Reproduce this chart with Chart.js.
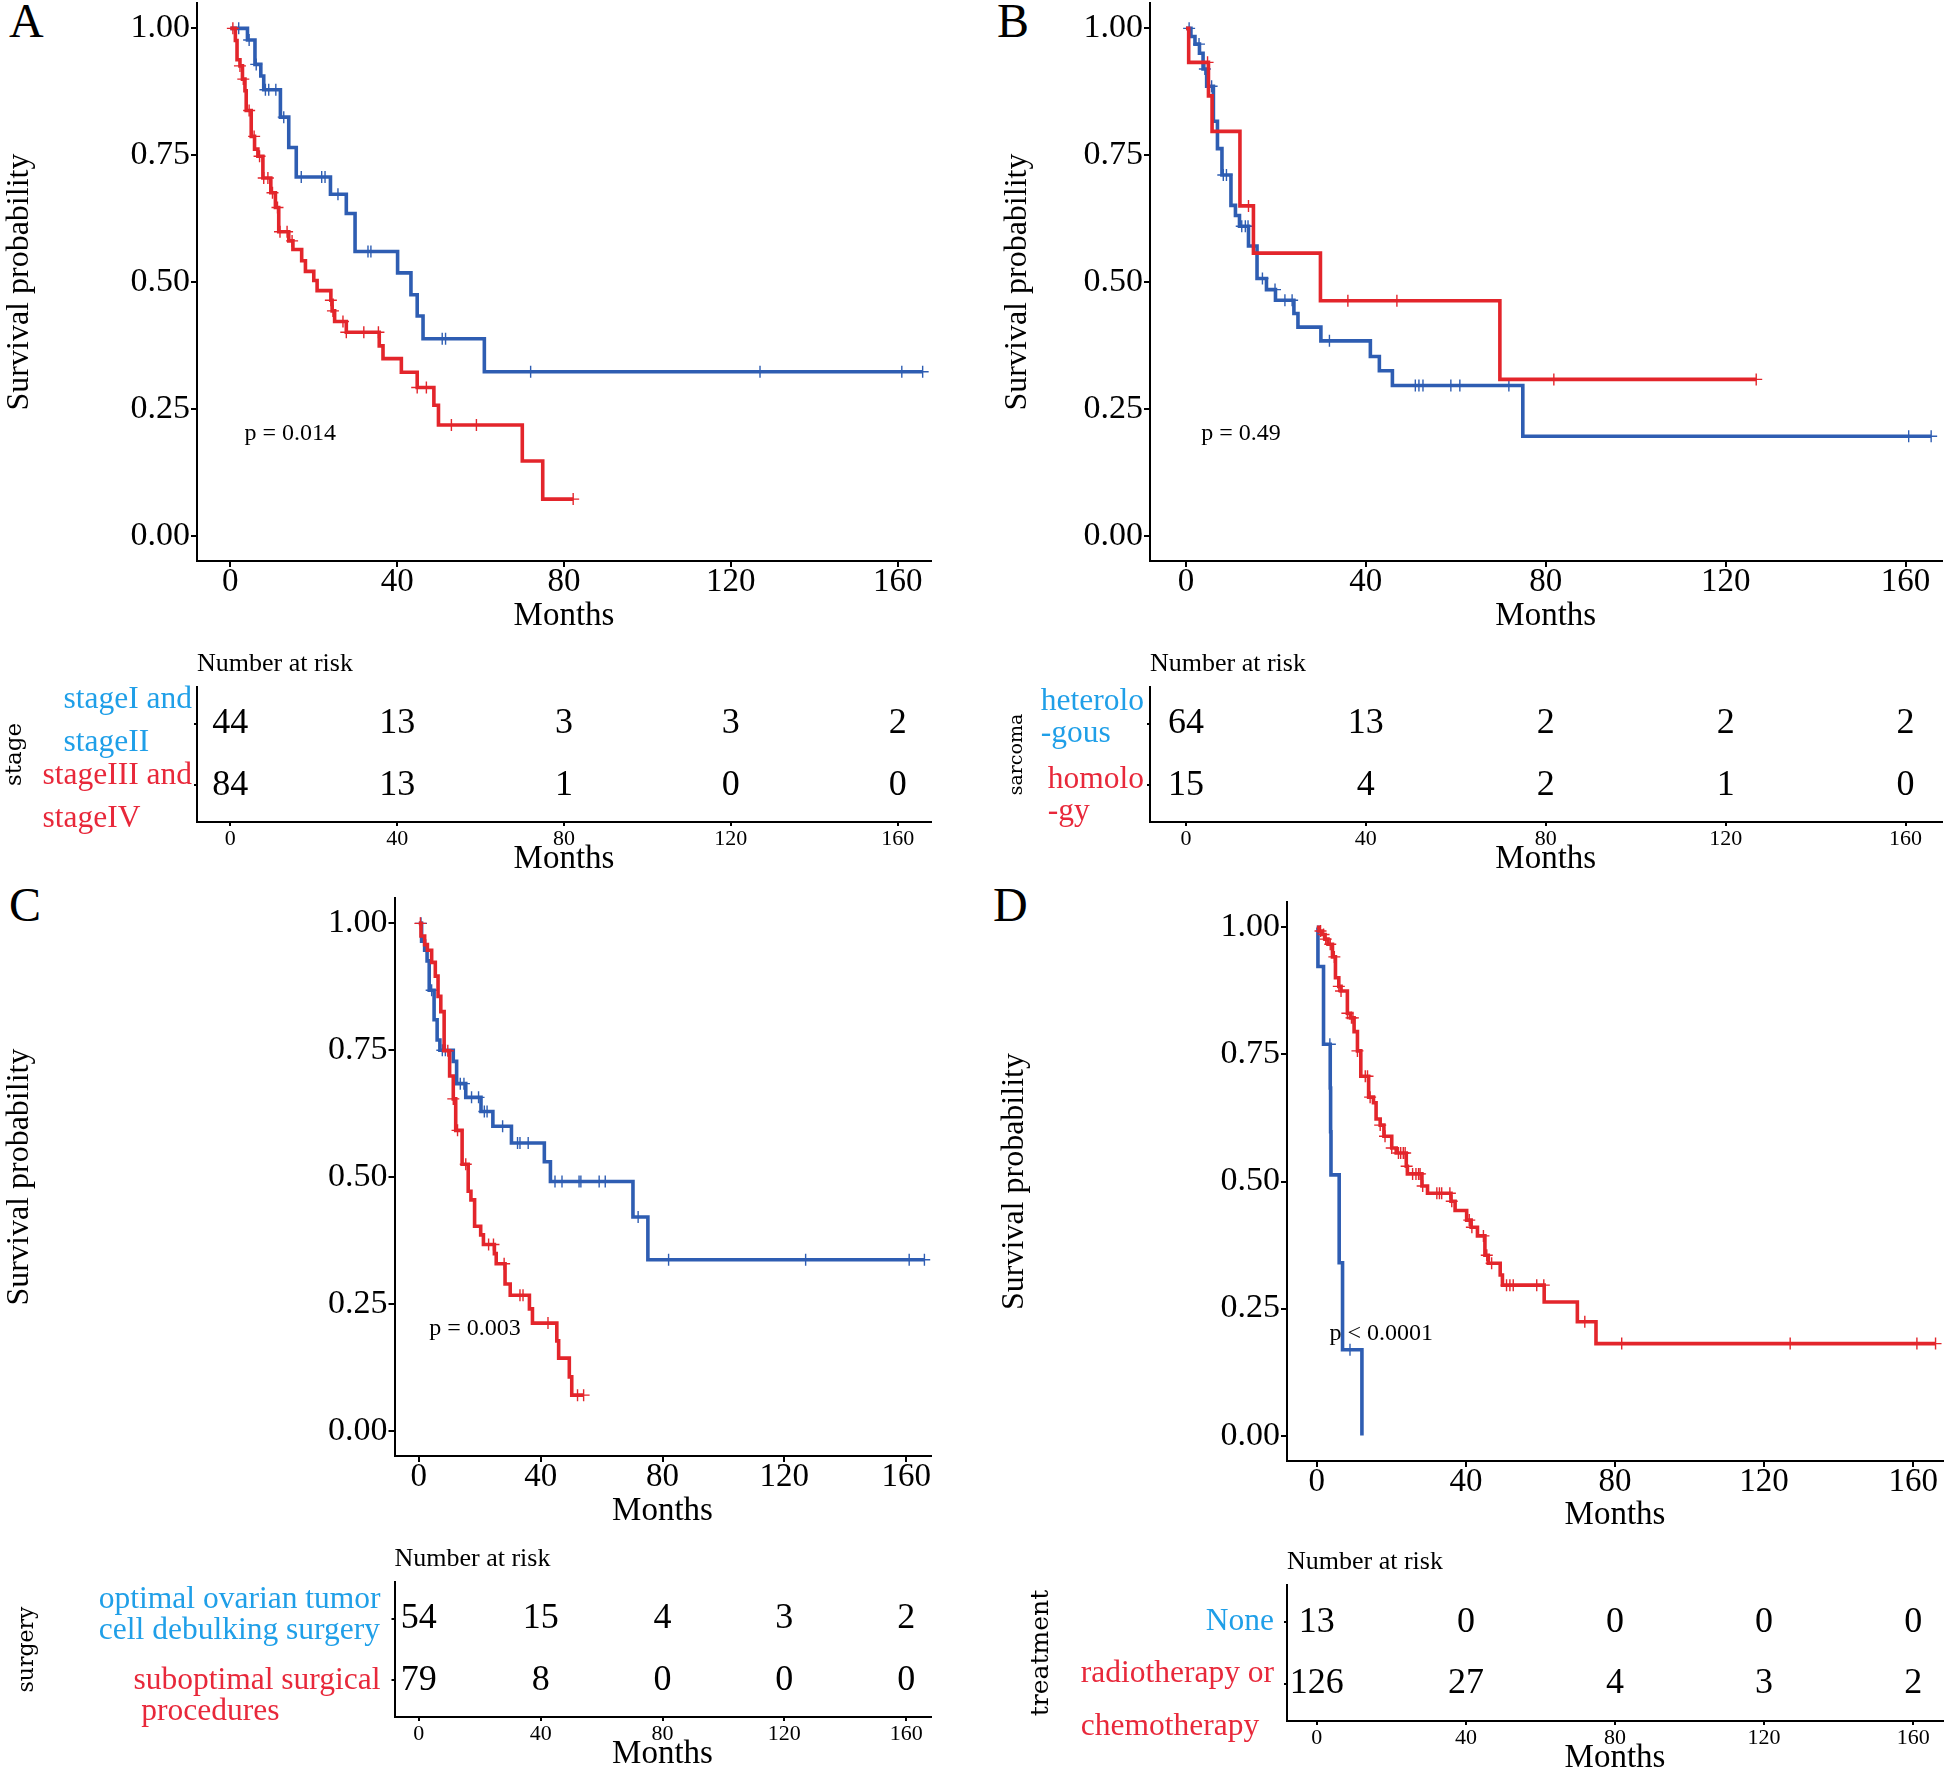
<!DOCTYPE html>
<html>
<head>
<meta charset="utf-8">
<script src="https://cdn.jsdelivr.net/npm/chart.js@4.4.1/dist/chart.umd.min.js"></script>
<style>
html, body { margin: 0; padding: 0; background: #fff; }
#page { position: relative; width: 1944px; height: 1771px; overflow: hidden; background: #fff;
        font-family: "Liberation Serif", "Times New Roman", serif; }
#page canvas { position: absolute; }
.tag { position: absolute; font-size: 48px; line-height: 48px; color: #000; }
</style>
</head>
<body>
<div id="page">
  <div class="tag" style="left:9px;top:-3px">A</div>
  <div class="tag" style="left:997px;top:-3px">B</div>
  <div class="tag" style="left:9px;top:881px">C</div>
  <div class="tag" style="left:993px;top:881px">D</div>
  <canvas id="kmA"></canvas><canvas id="riskA"></canvas>
  <canvas id="kmB"></canvas><canvas id="riskB"></canvas>
  <canvas id="kmC"></canvas><canvas id="riskC"></canvas>
  <canvas id="kmD"></canvas><canvas id="riskD"></canvas>
</div>
<script>
// Axis ticks
const xTicks = [0, 40, 80, 120, 160];
const yTicks = [0, 0.25, 0.5, 0.75, 1];

// A: stage  (event times in months, survival after each event, censor times)
const aBlueT = [4.1, 5.9, 7.3, 8.0, 12.0, 14.0, 15.8, 24.0, 27.8, 29.9, 40.1, 43.3, 44.8, 46.2, 60.9, 166];
const aBlueS = [0.977, 0.929, 0.906, 0.879, 0.825, 0.765, 0.707, 0.673, 0.635, 0.560, 0.518, 0.475, 0.433, 0.388, 0.323, 0.323];
const aBlueC = [2, 4.5, 6.2, 8.4, 9.2, 10.9, 12.8, 17, 21.9, 22.7, 25.8, 33, 33.7, 50.8, 51.6, 72, 127, 161, 166];
const aRedT = [1.2, 1.6, 2.3, 2.9, 3.5, 3.8, 5.0, 5.8, 6.6, 7.8, 9.7, 10.8, 11.6, 14.0, 15.0, 17.1, 18.0, 20.0, 20.8, 24.1, 24.4, 25.0, 27.8, 35.7, 36.6, 41.0, 44.8, 48.8, 49.9, 70.0, 74.9, 82.2];
const aRedS = [0.976, 0.938, 0.926, 0.900, 0.877, 0.838, 0.787, 0.762, 0.748, 0.705, 0.676, 0.647, 0.599, 0.581, 0.564, 0.542, 0.521, 0.503, 0.483, 0.464, 0.443, 0.422, 0.401, 0.374, 0.349, 0.322, 0.292, 0.257, 0.218, 0.147, 0.072, 0.072];
const aRedC = [0.6, 2.3, 3.1, 4.5, 5.7, 7.0, 8.0, 9.0, 10.1, 11.3, 11.9, 13.6, 14.8, 24.1, 24.6, 27.0, 27.8, 32.0, 35.5, 44.8, 47.0, 53.0, 59.0, 82.2];
const aLabels = [["stageI and", "stageII"], ["stageIII and", "stageIV"]];
const aRiskBlue = [44, 13, 3, 3, 2];
const aRiskRed = [84, 13, 1, 0, 0];

// B: sarcoma
const bBlueT = [1.1, 2.0, 3.0, 3.8, 4.6, 6.1, 7.0, 8.0, 10.0, 11.0, 11.9, 13.9, 15.8, 17.9, 19.9, 24.0, 24.9, 30.0, 41.0, 43.0, 45.9, 74.9, 165.7];
const bBlueS = [0.984, 0.969, 0.951, 0.920, 0.886, 0.817, 0.763, 0.711, 0.651, 0.631, 0.610, 0.571, 0.507, 0.485, 0.464, 0.438, 0.411, 0.384, 0.353, 0.325, 0.296, 0.196, 0.196];
const bBlueC = [0.7, 2.9, 4.2, 5.7, 8.3, 9.0, 12.4, 13.2, 13.8, 17.0, 19.8, 22.0, 23.6, 31.9, 51.0, 51.8, 52.7, 58.9, 60.9, 71.8, 160.7, 165.7];
const bRedT = [0.6, 5.0, 5.8, 12.0, 15.0, 29.9, 69.8, 126.8];
const bRedS = [0.933, 0.867, 0.797, 0.650, 0.557, 0.463, 0.308, 0.308];
const bRedC = [4.8, 13.9, 36.0, 46.9, 81.8, 126.8];
const bLabels = [["heterolo", "-gous"], ["homolo", "-gy"]];
const bRiskBlue = [64, 13, 2, 2, 2];
const bRiskRed = [15, 4, 2, 1, 0];

// C: surgery
const cBlueT = [0.9, 1.9, 2.7, 3.4, 5.0, 6.0, 6.9, 11.3, 12.4, 15.4, 20.4, 24.3, 30.4, 41.2, 43.2, 70.3, 75.2, 166];
const cBlueS = [0.965, 0.947, 0.926, 0.868, 0.810, 0.770, 0.750, 0.728, 0.684, 0.657, 0.629, 0.600, 0.567, 0.530, 0.491, 0.421, 0.337, 0.337];
const cBlueC = [0.7, 4.2, 7.7, 8.7, 13.6, 14.8, 17.3, 19.6, 21.5, 22.4, 27.5, 32.4, 33.2, 35.9, 44.7, 47.0, 52.6, 53.2, 59.2, 61.2, 72.0, 82.0, 127, 161, 166];
const cRedT = [0.7, 1.9, 2.8, 4.2, 5.4, 6.3, 7.2, 8.3, 10.1, 11.3, 12.1, 14.2, 16.2, 17.1, 18.3, 20.3, 21.2, 24.8, 25.4, 28.3, 30.0, 36.3, 37.3, 45.3, 45.9, 49.4, 50.2, 54.1];
const cRedS = [0.975, 0.958, 0.947, 0.923, 0.896, 0.856, 0.826, 0.749, 0.699, 0.654, 0.592, 0.525, 0.472, 0.455, 0.403, 0.386, 0.367, 0.349, 0.329, 0.289, 0.267, 0.240, 0.212, 0.177, 0.143, 0.106, 0.070, 0.070];
const cRedC = [0.5, 9.5, 11.3, 12.7, 15.4, 22.9, 24.5, 28.0, 33.2, 34.2, 42.4, 52.1, 54.1];
const cLabels = [["optimal ovarian tumor", "cell debulking surgery"], ["suboptimal surgical", " procedures"]];
const cRiskBlue = [54, 15, 4, 3, 2];
const cRiskRed = [79, 8, 0, 0, 0];

// D: treatment
const dBlueT = [0.3, 1.8, 3.6, 3.7, 3.8, 6.0, 6.9, 12.1];
const dBlueS = [0.923, 0.770, 0.684, 0.598, 0.513, 0.340, 0.169, 0];
const dBlueC = [3.5, 8.9];
const dRedT = [0.6, 1.5, 2.2, 3.0, 4.2, 5.0, 5.9, 6.5, 8.2, 9.0, 10.0, 10.9, 11.8, 13.9, 15.2, 15.9, 17.0, 18.0, 20.1, 21.3, 24.0, 24.3, 28.2, 29.7, 36.0, 37.1, 40.2, 41.4, 43.1, 45.1, 46.0, 49.2, 49.8, 61.0, 69.9, 74.9, 166];
const dRedS = [0.993, 0.986, 0.977, 0.967, 0.942, 0.901, 0.884, 0.875, 0.831, 0.822, 0.795, 0.757, 0.707, 0.666, 0.655, 0.623, 0.611, 0.589, 0.566, 0.556, 0.530, 0.515, 0.491, 0.477, 0.461, 0.443, 0.424, 0.410, 0.393, 0.355, 0.339, 0.316, 0.296, 0.263, 0.224, 0.181, 0.181];
const dRedC = [1.0, 1.8, 2.4, 3.6, 4.7, 5.9, 6.5, 8.2, 9.3, 9.7, 10.9, 13.0, 13.6, 14.3, 17.0, 18.3, 20.1, 21.9, 22.5, 23.2, 23.7, 24.1, 25.7, 26.6, 27.3, 27.7, 28.4, 32.2, 32.9, 33.5, 35.7, 36.2, 40.9, 41.6, 44.7, 45.6, 46.9, 50.9, 51.8, 52.7, 59.0, 60.9, 71.9, 81.8, 127, 161, 166];
const dLabels = [["None"], ["radiotherapy or", "chemotherapy"]];
const dRiskBlue = [13, 0, 0, 0, 0];
const dRiskRed = [126, 27, 4, 3, 2];

const SERIF = '"Liberation Serif", "Times New Roman", serif';
const BLUE = '#2e5db2';
const RED = '#e3252b';
const BLUE_TXT = '#1f9fe8';
const RED_TXT = '#e8283a';

Chart.defaults.font.family = SERIF;
Chart.defaults.color = '#000';

// size and place a canvas so the plot area lands where it is in the figure
function place(id, area, titleX, titleY, yLH, xLH) {
  const pad = 40;
  const left = Math.round(titleX - yLH / 2);
  const top = Math.round(area.t - pad);
  const width = Math.round(area.r + pad - left);
  const height = Math.round(titleY + xLH / 2 - top);
  const c = document.getElementById(id);
  c.width = width; c.height = height;
  c.style.left = left + 'px'; c.style.top = top + 'px';
  c.style.width = width + 'px'; c.style.height = height + 'px';
  return {
    canvas: c,
    yW: area.l - left,
    xH: height - (area.b - top),
    padding: {left: 0, top: area.t - top, right: width - (area.r - left), bottom: 0}
  };
}

function stepData(T, S) {
  const pts = [{x: 0, y: 1}];
  T.forEach((t, i) => pts.push({x: t, y: S[i]}));
  return pts;
}

function survAt(T, S, c) {
  let s = 1;
  T.forEach((t, i) => { if (t <= c) s = S[i]; });
  return s;
}

function axisStyle(tickLen) {
  return {
    grid: {display: true, drawOnChartArea: false, drawTicks: true, tickLength: tickLen, color: '#000', lineWidth: 2},
    border: {display: true, color: '#000', width: 2}
  };
}

function pvalPlugin(text) {
  return {
    id: 'pval',
    afterDatasetsDraw(chart) {
      const ctx = chart.ctx;
      ctx.save();
      ctx.font = '24px ' + SERIF;
      ctx.fillStyle = '#000';
      ctx.textAlign = 'left';
      ctx.textBaseline = 'middle';
      ctx.fillText(text, chart.scales.x.getPixelForValue(3.4), chart.scales.y.getPixelForValue(0.2));
      ctx.restore();
    }
  };
}

function kmChart(id, area, titleX, titleY, groups, pText) {
  const g = place(id, area, titleX, titleY, 38.4, 33);
  const datasets = [];
  groups.forEach(gr => {
    datasets.push({
      data: stepData(gr.t, gr.s), stepped: true, borderColor: gr.color,
      borderWidth: 3.6, pointRadius: 0, fill: false
    });
    datasets.push({
      data: gr.c.map(c => ({x: c, y: survAt(gr.t, gr.s, c)})), showLine: false,
      pointStyle: 'cross', pointRadius: 6, borderColor: gr.color, pointBorderWidth: 1.4
    });
  });
  new Chart(g.canvas, {
    type: 'line',
    data: {datasets: datasets},
    options: {
      responsive: false, animation: false, devicePixelRatio: 1, events: [],
      layout: {padding: g.padding},
      plugins: {legend: {display: false}, tooltip: {enabled: false}},
      scales: {
        x: Object.assign({
          type: 'linear', min: -8, max: 168,
          afterBuildTicks: s => { s.ticks = xTicks.map(v => ({value: v})); },
          afterFit: s => { s.height = g.xH; },
          ticks: {font: {size: 33, lineHeight: 0.9}, padding: 0, maxRotation: 0, callback: v => String(v)},
          title: {display: true, text: 'Months', font: {size: 33, lineHeight: 1}, padding: 0}
        }, axisStyle(6)),
        y: Object.assign({
          type: 'linear', min: -0.05, max: 1.05,
          afterBuildTicks: s => { s.ticks = yTicks.map(v => ({value: v})); },
          afterFit: s => { s.width = g.yW; },
          ticks: {font: {size: 34}, padding: 1, callback: v => v.toFixed(2)},
          title: {display: true, text: 'Survival probability', font: {size: 32, lineHeight: 1.2}, padding: 0}
        }, axisStyle(6))
      }
    },
    plugins: [pvalPlugin(pText)]
  });
}

function riskPlugin(rows, colors, gap, lineGap, shift) {
  return {
    id: 'risk',
    afterDatasetsDraw(chart) {
      const {ctx, chartArea, scales} = chart;
      ctx.save();
      ctx.textBaseline = 'middle';
      ctx.font = '31.5px ' + SERIF;
      ctx.textAlign = 'left';
      rows.forEach((lines, i) => {
        const w = Math.max(...lines.map(s => ctx.measureText(s).width));
        const x = chartArea.left - gap - w;
        const yc = scales.y.getPixelForValue(i + 1) + shift[i];
        ctx.fillStyle = colors[i];
        lines.forEach((s, k) => ctx.fillText(s, x, yc + (k - (lines.length - 1) / 2) * lineGap));
      });
      ctx.fillStyle = '#000';
      ctx.font = '36px ' + SERIF;
      ctx.textAlign = 'center';
      chart.data.datasets.forEach((ds, i) => {
        chart.getDatasetMeta(i).data.forEach((pt, j) => ctx.fillText(String(ds.counts[j]), pt.x, pt.y));
      });
      ctx.font = '26px ' + SERIF;
      ctx.textAlign = 'left';
      ctx.fillText('Number at risk', chartArea.left, chartArea.top - 23);
      ctx.restore();
    }
  };
}

function riskChart(id, area, titleX, titleY, strata, strataSize, labels, blueN, redN, gap, lineGap, shift) {
  const yLH = strataSize * 1.2;
  const g = place(id, area, titleX, titleY, yLH, 33);
  new Chart(g.canvas, {
    type: 'scatter',
    data: {
      datasets: [
        {data: xTicks.map(t => ({x: t, y: 1})), counts: blueN, pointRadius: 0},
        {data: xTicks.map(t => ({x: t, y: 2})), counts: redN, pointRadius: 0}
      ]
    },
    options: {
      responsive: false, animation: false, devicePixelRatio: 1, events: [],
      layout: {padding: g.padding},
      plugins: {legend: {display: false}, tooltip: {enabled: false}},
      scales: {
        x: Object.assign({
          type: 'linear', min: -8, max: 168,
          afterBuildTicks: s => { s.ticks = xTicks.map(v => ({value: v})); },
          afterFit: s => { s.height = g.xH; },
          ticks: {font: {size: 22, lineHeight: 1}, padding: 2, maxRotation: 0, callback: v => String(v)},
          title: {display: true, text: 'Months', font: {size: 33, lineHeight: 1}, padding: 0}
        }, axisStyle(4)),
        y: Object.assign({
          type: 'linear', min: 0.4, max: 2.6, reverse: true,
          afterBuildTicks: s => { s.ticks = [{value: 1}, {value: 2}]; },
          afterFit: s => { s.width = g.yW; },
          ticks: {display: false},
          title: {display: true, text: strata, font: {family: '"DejaVu Serif", serif', size: strataSize, lineHeight: 1.2}, padding: 0}
        }, axisStyle(3))
      }
    },
    plugins: [riskPlugin(labels, [BLUE_TXT, RED_TXT], gap, lineGap, shift)]
  });
}

// Panel A
kmChart('kmA', {l: 197, t: 3, r: 931, b: 561}, 19, 616, [
  {t: aRedT, s: aRedS, c: aRedC, color: RED},
  {t: aBlueT, s: aBlueS, c: aBlueC, color: BLUE}
], 'p = 0.014');
riskChart('riskA', {l: 197, t: 687, r: 931, b: 822}, 15, 859, 'stage', 23,
  aLabels, aRiskBlue, aRiskRed, 5, 43, [-3, 12]);

// Panel B
kmChart('kmB', {l: 1150, t: 3, r: 1941.5, b: 561}, 1017, 616, [
  {t: bRedT, s: bRedS, c: bRedC, color: RED},
  {t: bBlueT, s: bBlueS, c: bBlueC, color: BLUE}
], 'p = 0.49');
riskChart('riskB', {l: 1150, t: 687, r: 1941.5, b: 822}, 1017, 859, 'sarcoma', 19,
  bLabels, bRiskBlue, bRiskRed, 6, 32, [-6, 11]);

// Panel C
kmChart('kmC', {l: 394.5, t: 898, r: 930.5, b: 1456}, 19, 1511, [
  {t: cRedT, s: cRedS, c: cRedC, color: RED},
  {t: cBlueT, s: cBlueS, c: cBlueC, color: BLUE}
], 'p = 0.003');
riskChart('riskC', {l: 394.5, t: 1582, r: 930.5, b: 1717}, 27, 1754, 'surgery', 22,
  cLabels, cRiskBlue, cRiskRed, 14, 31, [-4, 16]);

// Panel D
kmChart('kmD', {l: 1287, t: 902, r: 1943, b: 1461}, 1014, 1515, [
  {t: dRedT, s: dRedS, c: dRedC, color: RED},
  {t: dBlueT, s: dBlueS, c: dBlueC, color: BLUE}
], 'p < 0.0001');
riskChart('riskD', {l: 1287, t: 1585, r: 1943, b: 1721}, 1041, 1758, 'treatment', 25,
  dLabels, dRiskBlue, dRiskRed, 13, 53, [0, 16]);
</script>
</body>
</html>
